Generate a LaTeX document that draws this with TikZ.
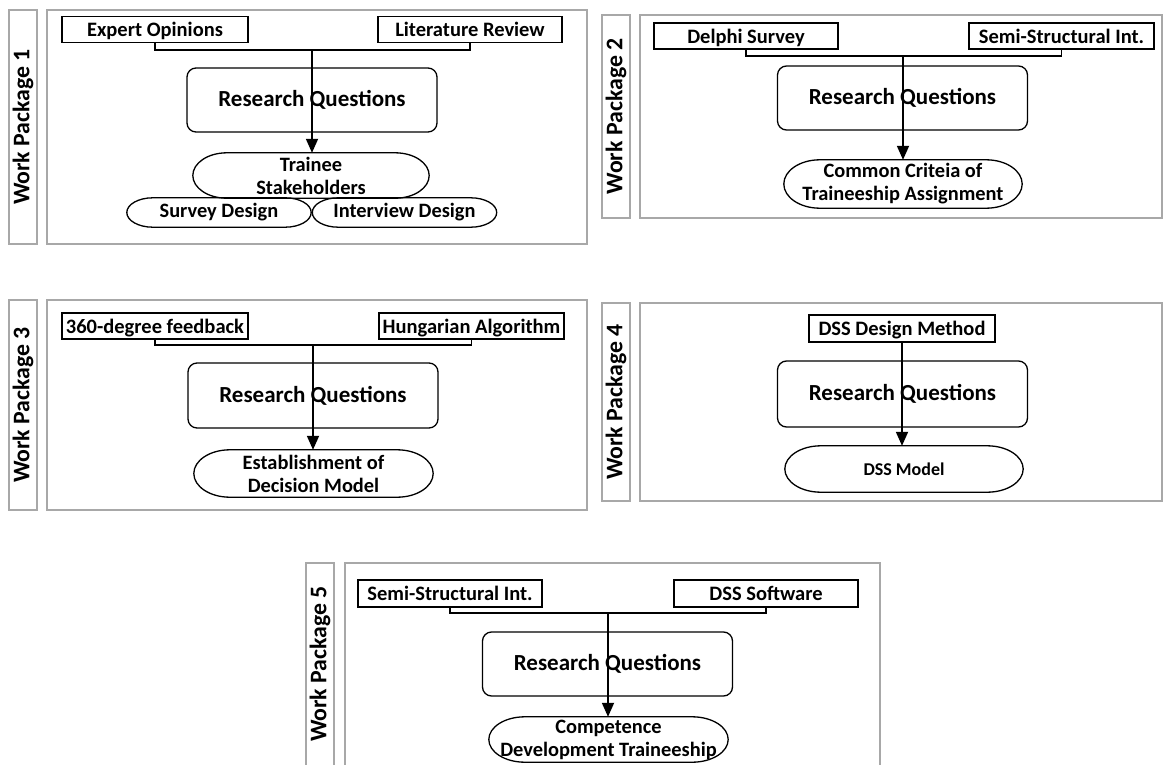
\documentclass[tikz,border=0pt]{standalone}
\usepackage{fontspec}
\setmainfont{Carlito}
\usetikzlibrary{arrows.meta,calc}
\definecolor{framegray}{RGB}{168,168,168}
% elliptical-ended capsule outline around node #1, end x-radius #2
\newcommand\capout[2]{%
  \draw[capline] ([xshift=#2]#1.north west) -- ([xshift=-#2]#1.north east)
    .. controls ([xshift={-0.448*#2}]#1.north east) and ($(#1.east)!0.552!(#1.north east)$) .. (#1.east)
    .. controls ($(#1.east)!0.552!(#1.south east)$) and ([xshift={-0.448*#2}]#1.south east) .. ([xshift=-#2]#1.south east)
    -- ([xshift=#2]#1.south west)
    .. controls ([xshift={0.448*#2}]#1.south west) and ($(#1.west)!0.552!(#1.south west)$) .. (#1.west)
    .. controls ($(#1.west)!0.552!(#1.north west)$) and ([xshift={0.448*#2}]#1.north west) .. ([xshift=#2]#1.north west)
    -- cycle;}
\begin{document}
\begin{tikzpicture}[x=1pt,y=-1pt,
  wp/.style={draw=framegray, line width=1.8pt},
  wplabel/.style={rotate=90, inner sep=0, font=\fontsize{23.8}{26}\selectfont\bfseries},
  src/.style={draw, line width=1.6pt, inner sep=0, text depth=0pt, minimum height=26, font=\fontsize{20.5}{22}\selectfont\bfseries},
  rq/.style={draw, line width=1.3pt, rounded corners=9, inner sep=0, minimum width=250, minimum height=64, font=\fontsize{23}{25}\selectfont\bfseries},
  capsule/.style={inner sep=0, align=center, font=\fontsize{20.4}{23}\selectfont\bfseries},
  capline/.style={draw, line width=1.3pt},
  conn/.style={line width=1.8pt},
  arr/.style={line width=1.8pt, -{Triangle[width=12pt,length=14pt]}}]
\useasboundingbox (0,0) rectangle (1167,765);

% ---------- Work Package 1
\draw[wp] (9,10) rectangle (37,244);
\node[wplabel] (wp1) at (23,127) {Work Package 1};
\draw[wp] (47,10) rectangle (587,244);
\node[src, minimum width=186] (a1) at (155,29.5) {Expert Opinions};
\node[src, minimum width=184] (b1) at (470,29.5) {Literature Review};
\node[rq] (r1) at (312,100) {Research Questions};
\node[capsule, minimum width=236, minimum height=45] (e1) at (311,175.5) {Trainee\\Stakeholders};
\node[capsule, minimum width=184, minimum height=29] (s1) at (219,212.5) {Survey Design};
\node[capsule, minimum width=184, minimum height=29] (i1) at (404.5,212.5) {Interview Design};
\capout{e1}{34}
\capout{s1}{26}
\capout{i1}{26}
\coordinate (j1) at (312,50);
\draw[conn] (a1.south) |- (j1) -| (b1.south);
\draw[arr] (j1) -- (j1 |- e1.north);

% ---------- Work Package 2
\draw[wp] (602,15) rectangle (630,218);
\node[wplabel] (wp2) at (616,116.5) {Work Package 2};
\draw[wp] (640,15) rectangle (1162,218);
\node[src, minimum width=184] (a2) at (746,36) {Delphi Survey};
\node[src, minimum width=185] (b2) at (1061.5,36) {Semi-Structural Int.};
\node[rq] (r2) at (902.5,98) {Research Questions};
\node[capsule, minimum width=238, minimum height=48] (e2) at (903,184) {Common Criteia of\\Traineeship Assignment};
\capout{e2}{36}
\coordinate (j2) at (903,56);
\draw[conn] (a2.south) |- (j2) -| (b2.south);
\draw[arr] (j2) -- (j2 |- e2.north);

% ---------- Work Package 3
\draw[wp] (9,300) rectangle (37,510);
\node[wplabel] (wp3) at (23,405) {Work Package 3};
\draw[wp] (47,300) rectangle (587,510);
\node[src, minimum width=186] (a3) at (155,326) {360-degree feedback};
\node[src, minimum width=185] (b3) at (471.5,326) {Hungarian Algorithm};
\node[rq, minimum height=65] (r3) at (313,395.5) {Research Questions};
\node[capsule, minimum width=239, minimum height=47] (e3) at (313.5,473.5) {Establishment of\\Decision Model};
\capout{e3}{36}
\coordinate (j3) at (313,345);
\draw[conn] (a3.south) |- (j3) -| (b3.south);
\draw[arr] (j3) -- (j3 |- e3.north);

% ---------- Work Package 4
\draw[wp] (602,303) rectangle (630,501);
\node[wplabel] (wp4) at (616,402) {Work Package 4};
\draw[wp] (640,303) rectangle (1162,501);
\node[src, minimum width=186, minimum height=27] (a4) at (902,328.5) {DSS Design Method};
\node[rq, minimum height=66] (r4) at (902.5,394) {Research Questions};
\node[capsule, minimum width=238, minimum height=46, font=\fontsize{18}{20}\selectfont\bfseries] (e4) at (904,469) {DSS Model};
\capout{e4}{36}
\draw[arr] (a4.south) -- (a4.south |- e4.north);

% ---------- Work Package 5
\draw[wp] (306,563) rectangle (334,775);
\node[wplabel] (wp5) at (320,664) {Work Package 5};
\draw[wp] (345,563) rectangle (880,775);
\node[src, minimum width=184, minimum height=27] (a5) at (450,593.5) {Semi-Structural Int.};
\node[src, minimum width=184, minimum height=27] (b5) at (766,593.5) {DSS Software};
\node[rq] (r5) at (607.5,664) {Research Questions};
\node[capsule, minimum width=239, minimum height=45] (e5) at (608.5,739.5) {Competence\\Development Traineeship};
\capout{e5}{36}
\coordinate (j5) at (608,613);
\draw[conn] (a5.south) |- (j5) -| (b5.south);
\draw[arr] (j5) -- (j5 |- e5.north);
\end{tikzpicture}
\end{document}
